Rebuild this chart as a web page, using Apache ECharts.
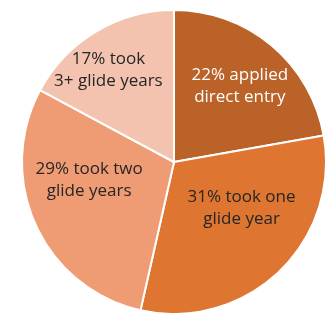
<!DOCTYPE html>
<html>
<head>
<meta charset="utf-8">
<script src="https://cdn.jsdelivr.net/npm/echarts@6/dist/echarts.min.js"></script>
<style>
  html, body { margin: 0; padding: 0; background: #fff; }
  #main { width: 333px; height: 313px; }
</style>
</head>
<body>
<div id="main"></div>
<script>
// data
var labels = ['22% applied\ndirect entry', '31% took one\nglide year', '29% took two\nglide years', '17% took\n3+ glide years'];
var values = [22, 31, 29, 17];

// look
var colors = ['#BA6228', '#DE7530', '#EF9B73', '#F4C3AF'];
var textColors = ['#FFFFFF', '#262626', '#262626', '#262626'];
var labelShift = [[15, -15], [13, -11], [-13, -15], [-25, -24]];

var chart = echarts.init(document.getElementById('main'));

var data = [];
for (var i = 0; i < values.length; i++) {
  data.push({
    name: labels[i],
    value: values[i],
    itemStyle: { color: colors[i] },
    label: { color: textColors[i] }
  });
}

chart.setOption({
  animation: false,
  series: [{
    type: 'pie',
    center: [174, 162],
    radius: [0, 152],
    startAngle: 90,
    clockwise: true,
    itemStyle: { borderColor: '#fff', borderWidth: 2 },
    label: {
      show: true,
      position: 'inside',
      formatter: '{b}',
      fontFamily: 'Open Sans',
      fontSize: 17,
      lineHeight: 22,
      align: 'center'
    },
    labelLine: { show: false },
    labelLayout: function (p) {
      var s = labelShift[p.dataIndex];
      return { dx: s[0], dy: s[1] };
    },
    data: data
  }]
});
</script>
</body>
</html>
